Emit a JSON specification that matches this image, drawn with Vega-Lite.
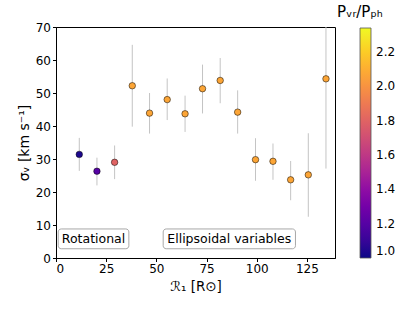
{
  "$schema": "https://vega.github.io/schema/vega-lite/v6.json",
  "width": 279,
  "height": 231,
  "autosize": "none",
  "padding": {"left": 56, "top": 27, "right": 80, "bottom": 53},
  "background": "white",
  "config": {
    "font": "DejaVu Sans",
    "view": {"stroke": "black", "strokeWidth": 1},
    "axis": {
      "grid": false,
      "domainColor": "black",
      "tickColor": "black",
      "tickSize": 3.5,
      "labelColor": "black",
      "labelFontSize": 12,
      "labelOverlap": false,
      "labelFont": "DejaVu Sans",
      "titleFont": "DejaVu Sans",
      "titleFontSize": 13.5,
      "titleFontWeight": "normal",
      "titleColor": "black"
    }
  },
  "datasets": {
    "pts": [
      {"r1": 11.6, "sigma": 31.4, "lo": 26.4, "hi": 36.4, "ratio": 1.03},
      {"r1": 20.4, "sigma": 26.3, "lo": 22.0, "hi": 30.4, "ratio": 1.2},
      {"r1": 29.2, "sigma": 29.0, "lo": 23.9, "hi": 34.1, "ratio": 1.8},
      {"r1": 38.0, "sigma": 52.2, "lo": 39.8, "hi": 64.6, "ratio": 2.07},
      {"r1": 46.6, "sigma": 43.9, "lo": 37.7, "hi": 50.0, "ratio": 2.07},
      {"r1": 55.4, "sigma": 48.0, "lo": 41.8, "hi": 54.4, "ratio": 2.07},
      {"r1": 64.3, "sigma": 43.7, "lo": 38.2, "hi": 49.2, "ratio": 2.07},
      {"r1": 73.0, "sigma": 51.3, "lo": 43.8, "hi": 58.6, "ratio": 2.07},
      {"r1": 81.8, "sigma": 53.8, "lo": 46.9, "hi": 60.6, "ratio": 2.07},
      {"r1": 90.5, "sigma": 44.2, "lo": 37.7, "hi": 50.8, "ratio": 2.07},
      {"r1": 99.4, "sigma": 29.8, "lo": 23.4, "hi": 36.3, "ratio": 2.07},
      {"r1": 108.1, "sigma": 29.3, "lo": 23.7, "hi": 34.7, "ratio": 2.07},
      {"r1": 116.9, "sigma": 23.7, "lo": 17.5, "hi": 29.4, "ratio": 2.07},
      {"r1": 125.7, "sigma": 25.2, "lo": 12.5, "hi": 37.8, "ratio": 2.07},
      {"r1": 134.5, "sigma": 54.3, "lo": 27.1, "hi": 81.5, "ratio": 2.07}
    ],
    "notes": [
      {"label": "Rotational", "xc": 18.7, "x0": 1.1, "x1": 36.3, "yc": 5.8, "y0": 2.8, "y1": 8.8},
      {"label": "Ellipsoidal variables", "xc": 86.3, "x0": 53.4, "x1": 119.3, "yc": 5.8, "y0": 2.8, "y1": 8.8}
    ]
  },
  "encoding": {
    "x": {"type": "quantitative", "scale": {"domain": [0, 139], "nice": false},
          "axis": {"values": [0, 25, 50, 75, 100, 125], "tickCount": 6, "title": "ℛ₁ [R⊙]", "titlePadding": 5}},
    "y": {"type": "quantitative", "scale": {"domain": [0, 70], "nice": false},
          "axis": {"values": [0, 10, 20, 30, 40, 50, 60, 70], "tickCount": 8, "title": "σᵥ [km s⁻¹]", "titleFontSize": 14, "titlePadding": 4}}
  },
  "layer": [
    {
      "data": {"name": "pts"},
      "mark": {"type": "rule", "color": "#c4c4c4", "strokeWidth": 1, "clip": true},
      "encoding": {
        "x": {"field": "r1", "type": "quantitative"},
        "y": {"field": "lo", "type": "quantitative"},
        "y2": {"field": "hi"}
      }
    },
    {
      "data": {"name": "pts"},
      "mark": {"type": "point", "filled": true, "opacity": 1, "size": 42, "stroke": "black", "strokeWidth": 0.5},
      "encoding": {
        "x": {"field": "r1", "type": "quantitative"},
        "y": {"field": "sigma", "type": "quantitative"},
        "fill": {
          "field": "ratio", "type": "quantitative",
          "scale": {"scheme": "plasma", "domain": [1.0, 2.34], "nice": false, "zero": false},
          "legend": {
            "title": " Pᵥᵣ/Pₚₕ",
            "orient": "none",
            "legendX": 281,
            "legendY": -22,
            "direction": "vertical",
            "gradientLength": 230,
            "gradientThickness": 11,
            "gradientStrokeColor": "#555",
            "gradientStrokeWidth": 0.8,
            "values": [1.0, 1.2, 1.4, 1.6, 1.8, 2.0, 2.2],
            "format": ".1f",
            "labelFontSize": 12,
            "labelOverlap": false,
            "labelColor": "black",
            "labelOffset": 5,
            "titleFontSize": 15,
            "titleFontWeight": "normal",
            "titleColor": "black",
            "titleAnchor": "start",
            "titleAlign": "center",
            "titlePadding": 8
          }
        }
      }
    },
    {
      "data": {"name": "notes"},
      "mark": {"type": "rect", "fill": "white", "stroke": "#a8a8a8", "strokeWidth": 1, "cornerRadius": 3},
      "encoding": {
        "x": {"field": "x0", "type": "quantitative"},
        "x2": {"field": "x1"},
        "y": {"field": "y0", "type": "quantitative"},
        "y2": {"field": "y1"}
      }
    },
    {
      "data": {"name": "notes"},
      "mark": {"type": "text", "fontSize": 12.5, "color": "black", "align": "center", "baseline": "middle"},
      "encoding": {
        "x": {"field": "xc", "type": "quantitative"},
        "y": {"field": "yc", "type": "quantitative"},
        "text": {"field": "label"}
      }
    }
  ]
}
